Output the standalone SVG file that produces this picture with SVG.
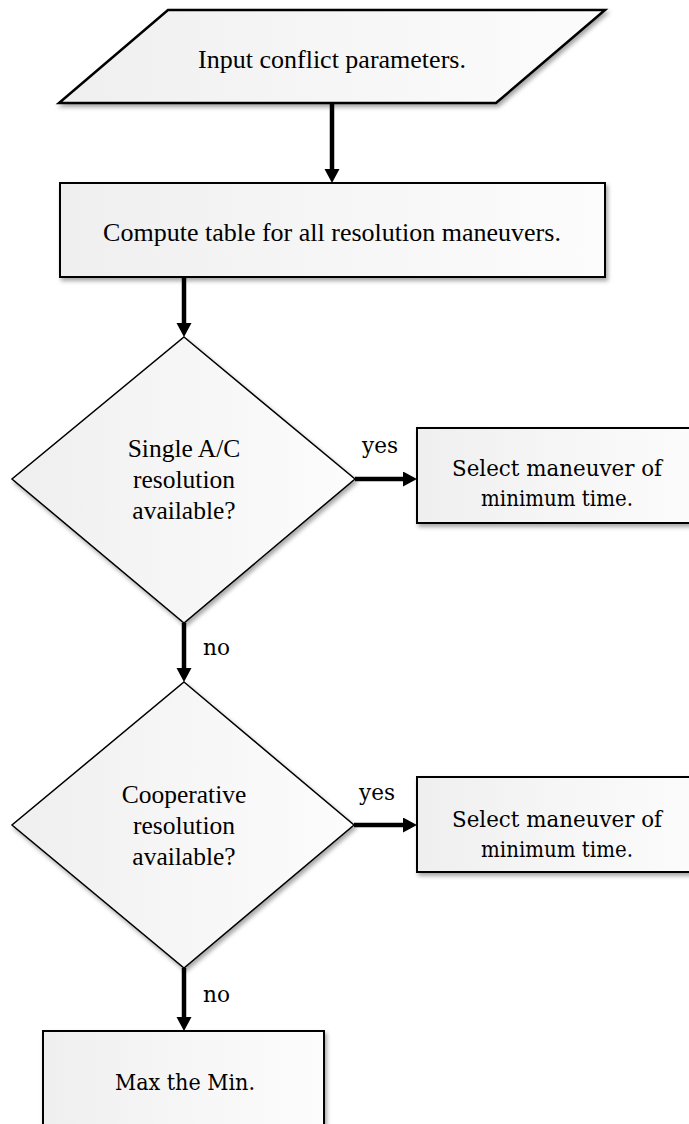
<svg xmlns="http://www.w3.org/2000/svg" width="689" height="1124" viewBox="0 0 689 1124">
<style>
.shape{fill:url(#g);stroke:#000;filter:url(#sh)}
.t{font-family:"Liberation Serif","Times New Roman",serif;fill:#000;text-anchor:middle}
.c{font-family:"DejaVu Serif","Liberation Serif",serif;fill:#000;text-anchor:middle}
.lbl{font-family:"DejaVu Serif","Liberation Serif",serif;fill:#000}
.conn{stroke:#000;stroke-width:4.5;fill:none;marker-end:url(#ah)}
</style>
<defs>
<linearGradient id="g" x1="0" y1="0" x2="1" y2="0">
<stop offset="0" stop-color="#efefef"/>
<stop offset="0.5" stop-color="#f6f6f6"/>
<stop offset="1" stop-color="#fcfcfc"/>
</linearGradient>
<filter id="sh" x="-10%" y="-10%" width="125%" height="130%">
<feDropShadow dx="2" dy="3" stdDeviation="2" flood-color="#000" flood-opacity="0.35"/>
</filter>
<marker id="ah" markerUnits="userSpaceOnUse" markerWidth="16" markerHeight="16" refX="0" refY="7.5" orient="auto">
<path d="M0,0 L14,7.5 L0,15 z" fill="#000"/>
</marker>
</defs>

<g id="input">
<polygon class="shape" stroke-width="2.5" points="168,10 605,10 496,103 59,103"/>
<text class="t" x="332" y="68" font-size="26">Input conflict parameters.</text>
</g>

<g id="compute">
<rect class="shape" stroke-width="2" x="60" y="183" width="545" height="94"/>
<text class="t" x="332" y="241" font-size="26">Compute table for all resolution maneuvers.</text>
</g>

<g id="decision1">
<polygon class="shape" stroke-width="1.5" points="184,337 355,479 184,623 12,479"/>
<text class="t" font-size="25.5"><tspan x="184" y="457">Single A/C</tspan><tspan x="184" y="488">resolution</tspan><tspan x="184" y="519">available?</tspan></text>
</g>

<g id="select1">
<rect class="shape" stroke-width="2" x="417" y="428" width="290" height="95"/>
<text class="c" font-size="23"><tspan x="557" y="476" textLength="210" lengthAdjust="spacingAndGlyphs">Select maneuver of</tspan><tspan x="557" y="506" textLength="152" lengthAdjust="spacingAndGlyphs">minimum time.</tspan></text>
</g>

<g id="decision2">
<polygon class="shape" stroke-width="1.5" points="184,682 354,825 184,968 12,825"/>
<text class="t" font-size="25.5"><tspan x="184" y="803">Cooperative</tspan><tspan x="184" y="834">resolution</tspan><tspan x="184" y="865">available?</tspan></text>
</g>

<g id="select2">
<rect class="shape" stroke-width="2" x="417" y="777" width="290" height="95"/>
<text class="c" font-size="23"><tspan x="557" y="827" textLength="210" lengthAdjust="spacingAndGlyphs">Select maneuver of</tspan><tspan x="557" y="857" textLength="152" lengthAdjust="spacingAndGlyphs">minimum time.</tspan></text>
</g>

<g id="maxmin">
<rect class="shape" stroke-width="2" x="43" y="1031" width="281" height="120"/>
<text class="c" x="185" y="1090" font-size="23" textLength="140" lengthAdjust="spacingAndGlyphs">Max the Min.</text>
</g>

<g id="connectors">
<line class="conn" x1="332" y1="103" x2="332" y2="169"/>
<line class="conn" x1="184" y1="277" x2="184" y2="323"/>
<line class="conn" x1="355" y1="479" x2="403" y2="479"/>
<line class="conn" x1="184" y1="623" x2="184" y2="668"/>
<line class="conn" x1="354" y1="825" x2="403" y2="825"/>
<line class="conn" x1="184" y1="968" x2="184" y2="1017"/>
<text class="lbl" x="362" y="453" font-size="23" textLength="36" lengthAdjust="spacingAndGlyphs">yes</text>
<text class="lbl" x="203" y="655" font-size="23" textLength="27" lengthAdjust="spacingAndGlyphs">no</text>
<text class="lbl" x="359" y="800" font-size="23" textLength="36" lengthAdjust="spacingAndGlyphs">yes</text>
<text class="lbl" x="203" y="1002" font-size="23" textLength="27" lengthAdjust="spacingAndGlyphs">no</text>
</g>
</svg>
